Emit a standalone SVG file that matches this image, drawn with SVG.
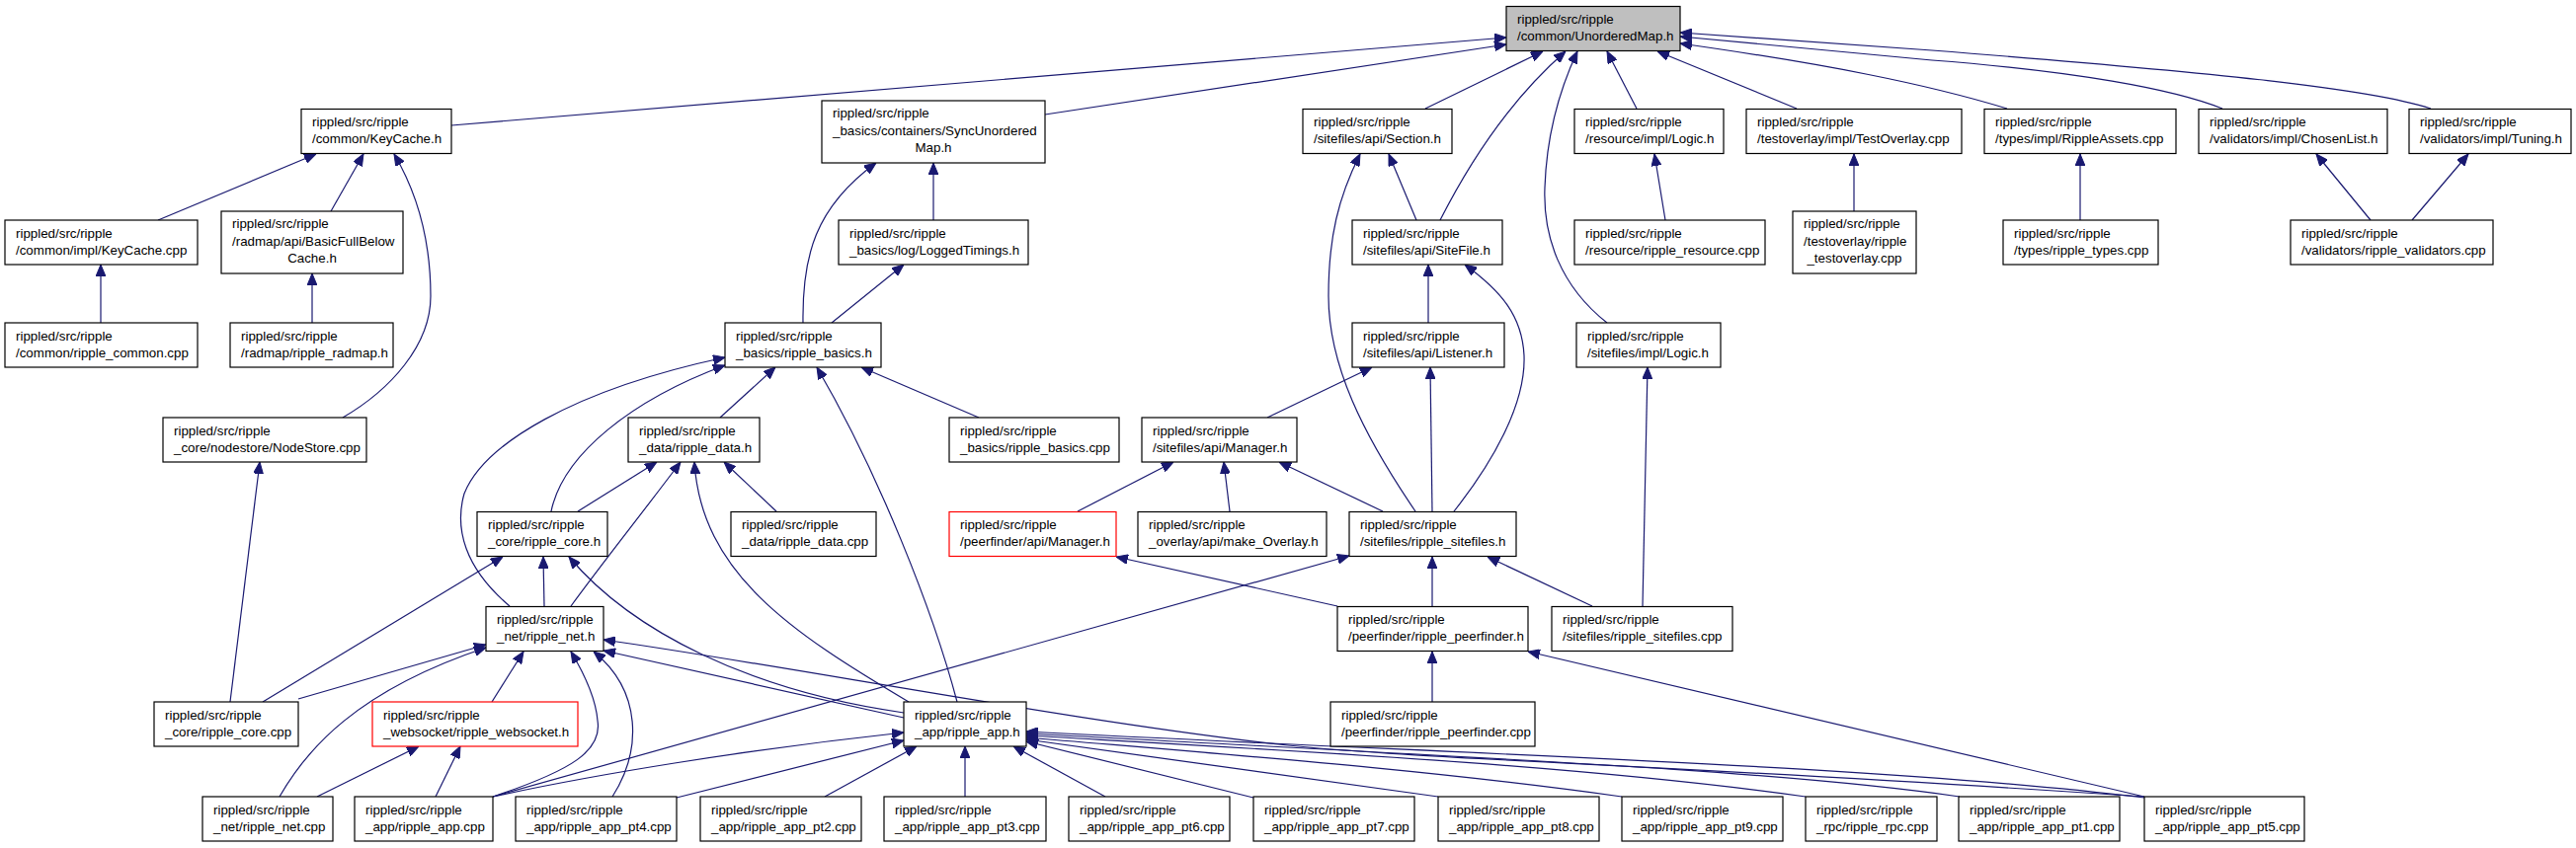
<svg xmlns="http://www.w3.org/2000/svg" width="2608" height="859" viewBox="0 0 2608 859">
<defs>
<marker id="a" viewBox="0 0 12 10" refX="12" refY="5" markerWidth="12" markerHeight="10" markerUnits="userSpaceOnUse" orient="auto"><path d="M0,0 L12,5 L0,10 z" fill="#191970" stroke="#191970" stroke-width="1"/></marker>
</defs>
<style>
.n rect{fill:#fff;stroke:#000;stroke-width:1.2}
.n.r rect{stroke:#f00}
.n.g rect{fill:#bfbfbf}
text{font-family:"Liberation Sans",Arial,Helvetica,sans-serif;font-size:13.33px;fill:#000}
.c{text-anchor:middle}
#edges path{fill:none;stroke:#191970;stroke-width:1.2;marker-end:url(#a)}
</style>
<rect width="2608" height="859" fill="#fff"/>
<g id="edges">
<path d="M457,127 L1525,38"/>
<path d="M1058,116 L1525,45"/>
<path d="M1443,110 L1562,52"/>
<path d="M1458,223 C1490,160 1530,100 1585,52"/>
<path d="M1627,327 C1580,290 1562,240 1564,190 C1566,130 1583,82 1597,52"/>
<path d="M1657,110 L1627,52"/>
<path d="M1819,110 L1678,52"/>
<path d="M2032,110 C1950,85 1850,65 1701,44"/>
<path d="M2250,110 C2200,90 2100,72 1956,61 L1701,37"/>
<path d="M2461,110 C2400,90 2250,74 1956,51 L1701,33"/>
<path d="M160,223 L320,156"/>
<path d="M335,214 L368,156"/>
<path d="M347,423 C395,395 436,350 436,300 C436,250 425,200 399,156"/>
<path d="M102,327 L102,268"/>
<path d="M316,327 L316,277"/>
<path d="M945,223 L945,165"/>
<path d="M813,327 C812,260 825,210 887,165"/>
<path d="M842,327 L915,268"/>
<path d="M1434,223 L1406,156"/>
<path d="M1433,518 C1380,440 1345,370 1345,300 C1345,240 1355,200 1377,156"/>
<path d="M1446,327 L1446,268"/>
<path d="M1472,518 C1510,470 1545,410 1543,360 C1541,320 1520,295 1483,268"/>
<path d="M1450,518 L1448,372"/>
<path d="M1283,423 L1389,372"/>
<path d="M1663,614 L1668,372"/>
<path d="M1686,223 L1675,156"/>
<path d="M1877,214 L1877,156"/>
<path d="M2106,223 L2106,156"/>
<path d="M2400,223 L2345,156"/>
<path d="M2442,223 L2499,156"/>
<path d="M729,423 L785,372"/>
<path d="M969,711 C945,620 890,480 827,372"/>
<path d="M991,423 L872,372"/>
<path d="M516,614 C470,575 460,535 470,500 C490,450 580,395 734,362"/>
<path d="M558,518 C570,460 640,405 734,370"/>
<path d="M585,518 L665,468"/>
<path d="M578,614 C610,570 650,520 689,468"/>
<path d="M920,711 C800,640 710,580 703,468"/>
<path d="M786,518 L733,468"/>
<path d="M551,614 L550,564"/>
<path d="M266,711 L509,564"/>
<path d="M915,722 C760,700 640,640 576,564"/>
<path d="M498,711 L530,660"/>
<path d="M302,708 L492,653"/>
<path d="M283,807 C310,760 360,700 492,656"/>
<path d="M499,807 C580,780 610,760 605,730 C603,705 590,680 578,660"/>
<path d="M620,807 C650,760 650,700 601,660"/>
<path d="M915,727 L611,659"/>
<path d="M2171,807 C1700,775 1450,770 1304,755 C1100,733 800,675 611,648"/>
<path d="M321,807 L424,756"/>
<path d="M441,807 L466,756"/>
<path d="M233,711 L263,468"/>
<path d="M499,807 C600,785 750,760 915,742"/>
<path d="M499,807 L1366,563"/>
<path d="M685,808 L915,750"/>
<path d="M835,807 L928,756"/>
<path d="M977,807 L977,756"/>
<path d="M1119,807 L1026,756"/>
<path d="M1269,808 L1039,751"/>
<path d="M1456,807 L1039,749"/>
<path d="M1642,807 C1450,780 1250,765 1039,747"/>
<path d="M1828,807 C1600,775 1300,760 1039,745"/>
<path d="M1984,807 C1800,780 1500,768 1039,743"/>
<path d="M2171,808 C1900,775 1500,765 1039,741"/>
<path d="M1354,614 L1130,564"/>
<path d="M2171,807 L1547,660"/>
<path d="M1400,518 L1295,468"/>
<path d="M1091,518 L1188,468"/>
<path d="M1245,518 L1239,468"/>
<path d="M1450,614 L1450,564"/>
<path d="M1612,614 L1506,564"/>
<path d="M1450,711 L1450,660"/>
</g>
<g id="n0" class="n g"><rect x="1525" y="6.5" width="176" height="45"/><text x="1536" y="24">rippled/src/ripple</text><text x="1536" y="41">/common/UnorderedMap.h</text></g>
<g id="n1" class="n"><rect x="305" y="110.5" width="152" height="45"/><text x="316" y="128">rippled/src/ripple</text><text x="316" y="145">/common/KeyCache.h</text></g>
<g id="n2" class="n"><rect x="832" y="102" width="226" height="63"/><text x="843" y="119">rippled/src/ripple</text><text x="843" y="136.5">_basics/containers/SyncUnordered</text><text class="c" x="945" y="154">Map.h</text></g>
<g id="n3" class="n"><rect x="1319" y="110.5" width="151" height="45"/><text x="1330" y="128">rippled/src/ripple</text><text x="1330" y="145">/sitefiles/api/Section.h</text></g>
<g id="n4" class="n"><rect x="1594" y="110.5" width="151" height="45"/><text x="1605" y="128">rippled/src/ripple</text><text x="1605" y="145">/resource/impl/Logic.h</text></g>
<g id="n5" class="n"><rect x="1768" y="110.5" width="218" height="45"/><text x="1779" y="128">rippled/src/ripple</text><text x="1779" y="145">/testoverlay/impl/TestOverlay.cpp</text></g>
<g id="n6" class="n"><rect x="2009" y="110.5" width="194" height="45"/><text x="2020" y="128">rippled/src/ripple</text><text x="2020" y="145">/types/impl/RippleAssets.cpp</text></g>
<g id="n7" class="n"><rect x="2226" y="110.5" width="191" height="45"/><text x="2237" y="128">rippled/src/ripple</text><text x="2237" y="145">/validators/impl/ChosenList.h</text></g>
<g id="n8" class="n"><rect x="2439" y="110.5" width="164" height="45"/><text x="2450" y="128">rippled/src/ripple</text><text x="2450" y="145">/validators/impl/Tuning.h</text></g>
<g id="n9" class="n"><rect x="5" y="223" width="195" height="45"/><text x="16" y="240.5">rippled/src/ripple</text><text x="16" y="257.5">/common/impl/KeyCache.cpp</text></g>
<g id="n10" class="n"><rect x="224" y="214" width="184" height="63"/><text x="235" y="231">rippled/src/ripple</text><text x="235" y="248.5">/radmap/api/BasicFullBelow</text><text class="c" x="316" y="266">Cache.h</text></g>
<g id="n11" class="n"><rect x="849" y="223" width="192" height="45"/><text x="860" y="240.5">rippled/src/ripple</text><text x="860" y="257.5">_basics/log/LoggedTimings.h</text></g>
<g id="n12" class="n"><rect x="1369" y="223" width="152" height="45"/><text x="1380" y="240.5">rippled/src/ripple</text><text x="1380" y="257.5">/sitefiles/api/SiteFile.h</text></g>
<g id="n13" class="n"><rect x="1594" y="223" width="193" height="45"/><text x="1605" y="240.5">rippled/src/ripple</text><text x="1605" y="257.5">/resource/ripple_resource.cpp</text></g>
<g id="n14" class="n"><rect x="1815" y="214" width="125" height="63"/><text x="1826" y="231">rippled/src/ripple</text><text x="1826" y="248.5">/testoverlay/ripple</text><text class="c" x="1877.5" y="266">_testoverlay.cpp</text></g>
<g id="n15" class="n"><rect x="2028" y="223" width="157" height="45"/><text x="2039" y="240.5">rippled/src/ripple</text><text x="2039" y="257.5">/types/ripple_types.cpp</text></g>
<g id="n16" class="n"><rect x="2319" y="223" width="205" height="45"/><text x="2330" y="240.5">rippled/src/ripple</text><text x="2330" y="257.5">/validators/ripple_validators.cpp</text></g>
<g id="n17" class="n"><rect x="5" y="327" width="195" height="45"/><text x="16" y="344.5">rippled/src/ripple</text><text x="16" y="361.5">/common/ripple_common.cpp</text></g>
<g id="n18" class="n"><rect x="233" y="327" width="165" height="45"/><text x="244" y="344.5">rippled/src/ripple</text><text x="244" y="361.5">/radmap/ripple_radmap.h</text></g>
<g id="n19" class="n"><rect x="734" y="327" width="158" height="45"/><text x="745" y="344.5">rippled/src/ripple</text><text x="745" y="361.5">_basics/ripple_basics.h</text></g>
<g id="n20" class="n"><rect x="1369" y="327" width="154" height="45"/><text x="1380" y="344.5">rippled/src/ripple</text><text x="1380" y="361.5">/sitefiles/api/Listener.h</text></g>
<g id="n21" class="n"><rect x="1596" y="327" width="146" height="45"/><text x="1607" y="344.5">rippled/src/ripple</text><text x="1607" y="361.5">/sitefiles/impl/Logic.h</text></g>
<g id="n22" class="n"><rect x="165" y="423" width="206" height="45"/><text x="176" y="440.5">rippled/src/ripple</text><text x="176" y="457.5">_core/nodestore/NodeStore.cpp</text></g>
<g id="n23" class="n"><rect x="636" y="423" width="133" height="45"/><text x="647" y="440.5">rippled/src/ripple</text><text x="647" y="457.5">_data/ripple_data.h</text></g>
<g id="n24" class="n"><rect x="961" y="423" width="172" height="45"/><text x="972" y="440.5">rippled/src/ripple</text><text x="972" y="457.5">_basics/ripple_basics.cpp</text></g>
<g id="n25" class="n"><rect x="1156" y="423" width="157" height="45"/><text x="1167" y="440.5">rippled/src/ripple</text><text x="1167" y="457.5">/sitefiles/api/Manager.h</text></g>
<g id="n26" class="n"><rect x="483" y="518.5" width="132" height="45"/><text x="494" y="536">rippled/src/ripple</text><text x="494" y="553">_core/ripple_core.h</text></g>
<g id="n27" class="n"><rect x="740" y="518.5" width="147" height="45"/><text x="751" y="536">rippled/src/ripple</text><text x="751" y="553">_data/ripple_data.cpp</text></g>
<g id="n28" class="n r"><rect x="961" y="518.5" width="169" height="45"/><text x="972" y="536">rippled/src/ripple</text><text x="972" y="553">/peerfinder/api/Manager.h</text></g>
<g id="n29" class="n"><rect x="1152" y="518.5" width="191" height="45"/><text x="1163" y="536">rippled/src/ripple</text><text x="1163" y="553">_overlay/api/make_Overlay.h</text></g>
<g id="n30" class="n"><rect x="1366" y="518.5" width="169" height="45"/><text x="1377" y="536">rippled/src/ripple</text><text x="1377" y="553">/sitefiles/ripple_sitefiles.h</text></g>
<g id="n31" class="n"><rect x="492" y="614.5" width="119" height="45"/><text x="503" y="632">rippled/src/ripple</text><text x="503" y="649">_net/ripple_net.h</text></g>
<g id="n32" class="n"><rect x="1354" y="614.5" width="193" height="45"/><text x="1365" y="632">rippled/src/ripple</text><text x="1365" y="649">/peerfinder/ripple_peerfinder.h</text></g>
<g id="n33" class="n"><rect x="1571" y="614.5" width="183" height="45"/><text x="1582" y="632">rippled/src/ripple</text><text x="1582" y="649">/sitefiles/ripple_sitefiles.cpp</text></g>
<g id="n34" class="n"><rect x="156" y="711" width="146" height="45"/><text x="167" y="728.5">rippled/src/ripple</text><text x="167" y="745.5">_core/ripple_core.cpp</text></g>
<g id="n35" class="n r"><rect x="377" y="711" width="208" height="45"/><text x="388" y="728.5">rippled/src/ripple</text><text x="388" y="745.5">_websocket/ripple_websocket.h</text></g>
<g id="n36" class="n"><rect x="915" y="711" width="124" height="45"/><text x="926" y="728.5">rippled/src/ripple</text><text x="926" y="745.5">_app/ripple_app.h</text></g>
<g id="n37" class="n"><rect x="1347" y="711" width="207" height="45"/><text x="1358" y="728.5">rippled/src/ripple</text><text x="1358" y="745.5">/peerfinder/ripple_peerfinder.cpp</text></g>
<g id="n38" class="n"><rect x="205" y="807" width="132" height="45"/><text x="216" y="824.5">rippled/src/ripple</text><text x="216" y="841.5">_net/ripple_net.cpp</text></g>
<g id="n39" class="n"><rect x="359" y="807" width="140" height="45"/><text x="370" y="824.5">rippled/src/ripple</text><text x="370" y="841.5">_app/ripple_app.cpp</text></g>
<g id="n40" class="n"><rect x="522" y="807" width="163" height="45"/><text x="533" y="824.5">rippled/src/ripple</text><text x="533" y="841.5">_app/ripple_app_pt4.cpp</text></g>
<g id="n41" class="n"><rect x="709" y="807" width="163" height="45"/><text x="720" y="824.5">rippled/src/ripple</text><text x="720" y="841.5">_app/ripple_app_pt2.cpp</text></g>
<g id="n42" class="n"><rect x="895" y="807" width="164" height="45"/><text x="906" y="824.5">rippled/src/ripple</text><text x="906" y="841.5">_app/ripple_app_pt3.cpp</text></g>
<g id="n43" class="n"><rect x="1082" y="807" width="163" height="45"/><text x="1093" y="824.5">rippled/src/ripple</text><text x="1093" y="841.5">_app/ripple_app_pt6.cpp</text></g>
<g id="n44" class="n"><rect x="1269" y="807" width="163" height="45"/><text x="1280" y="824.5">rippled/src/ripple</text><text x="1280" y="841.5">_app/ripple_app_pt7.cpp</text></g>
<g id="n45" class="n"><rect x="1456" y="807" width="163" height="45"/><text x="1467" y="824.5">rippled/src/ripple</text><text x="1467" y="841.5">_app/ripple_app_pt8.cpp</text></g>
<g id="n46" class="n"><rect x="1642" y="807" width="163" height="45"/><text x="1653" y="824.5">rippled/src/ripple</text><text x="1653" y="841.5">_app/ripple_app_pt9.cpp</text></g>
<g id="n47" class="n"><rect x="1828" y="807" width="133" height="45"/><text x="1839" y="824.5">rippled/src/ripple</text><text x="1839" y="841.5">_rpc/ripple_rpc.cpp</text></g>
<g id="n48" class="n"><rect x="1983" y="807" width="163" height="45"/><text x="1994" y="824.5">rippled/src/ripple</text><text x="1994" y="841.5">_app/ripple_app_pt1.cpp</text></g>
<g id="n49" class="n"><rect x="2171" y="807" width="162" height="45"/><text x="2182" y="824.5">rippled/src/ripple</text><text x="2182" y="841.5">_app/ripple_app_pt5.cpp</text></g>
</svg>
